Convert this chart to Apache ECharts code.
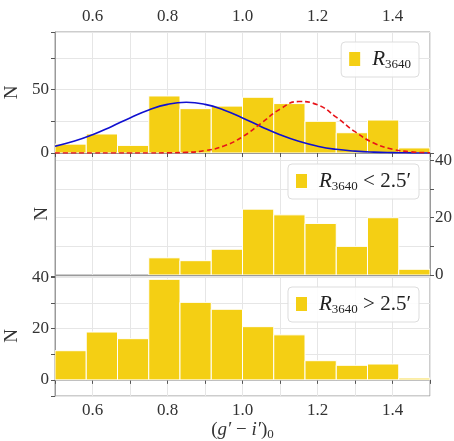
<!DOCTYPE html>
<html>
<head>
<meta charset="utf-8">
<script src="https://cdn.jsdelivr.net/npm/echarts@6/dist/echarts.min.js"></script>
<style>
html, body { margin: 0; padding: 0; background: #fff; }
#chart { width: 454px; height: 441px; }
</style>
</head>
<body>
<div id="chart"></div>
<script>
// bin edges of the colour histograms
var binEdges = [0.5, 0.5833, 0.6667, 0.75, 0.8333, 0.9167, 1.0, 1.0833, 1.1667, 1.25, 1.3333, 1.4167, 1.5];

// counts per bin
var countsAll   = [7, 15, 6, 45, 35, 37, 44, 39, 25, 16, 26, 4];
var countsInner = [0, 0, 0, 6, 5, 9, 23, 21, 18, 10, 20, 2];
var countsOuter = [11.4, 18.7, 16.1, 39.3, 30.3, 27.6, 20.8, 17.6, 7.5, 5.7, 6.2, 0.7];

// fitted components
var curveX    = [0.5, 0.55, 0.6, 0.65, 0.7, 0.75, 0.8, 0.85, 0.9, 0.95, 1.0, 1.05, 1.1, 1.15, 1.2, 1.25, 1.3, 1.35, 1.4, 1.45, 1.5];
var blueCurve = [5.4, 9.2, 14.4, 20.8, 27.7, 34.0, 38.4, 40.0, 38.4, 34.0, 27.7, 20.8, 14.4, 9.2, 5.4, 2.9, 1.5, 0.7, 0.3, 0.1, 0.0];
var redCurve  = [0, 0, 0, 0, 0, 0, 0.1, 0.5, 1.9, 5.5, 12.8, 23.6, 34.6, 40.6, 38.0, 28.3, 16.8, 7.9, 3.0, 0.9, 0.2];

var xTicks = [0.6, 0.8, 1.0, 1.2, 1.4];

var barColor = '#f4cf14';
var frameColor = '#9a9a9a';
var gridColor = '#e6e6e6';
var textColor = '#333';
var fontFam = '"Liberation Serif", "DejaVu Serif", serif';

function histData(counts) {
  var out = [];
  for (var i = 0; i < counts.length; i++) {
    out.push([binEdges[i], binEdges[i + 1], counts[i]]);
  }
  return out;
}

function pairs(xs, ys) {
  var out = [];
  for (var i = 0; i < xs.length; i++) out.push([xs[i], ys[i]]);
  return out;
}

function renderBar(params, api) {
  var h = api.value(2);
  if (!h) return;
  var p0 = api.coord([api.value(0), 0]);
  var p1 = api.coord([api.value(1), h]);
  return {
    type: 'rect',
    shape: { x: p0[0], y: p1[1], width: p1[0] - p0[0], height: p0[1] - p1[1] },
    style: { fill: barColor, stroke: '#ffffff', lineWidth: 1 }
  };
}

function xLabel(v) {
  for (var i = 0; i < xTicks.length; i++) {
    if (Math.abs(v - xTicks[i]) < 1e-6) return xTicks[i].toFixed(1);
  }
  return '';
}

function yLabelEvery(step) {
  return function (v) {
    var r = Math.round(v / step) * step;
    return Math.abs(v - r) < 1e-6 ? String(r) : '';
  };
}

var legendRich = {
  r: { fontFamily: fontFam, fontStyle: 'italic', fontSize: 21, color: '#222', lineHeight: 24, padding: [0, 0, 0, 7] },
  s: { fontFamily: fontFam, fontSize: 13, color: '#222', lineHeight: 24, verticalAlign: 'bottom', padding: [10, 0, 0, 0] },
  t: { fontFamily: fontFam, fontSize: 21, color: '#222', lineHeight: 24 }
};

function makeLegend(name, top, tail) {
  return {
    data: [name],
    right: 35,
    top: top,
    orient: 'horizontal',
    icon: 'rect',
    itemWidth: 11,
    itemHeight: 14,
    padding: [6, 8, 6, 8],
    backgroundColor: 'rgba(255,255,255,0.85)',
    borderColor: '#dddddd',
    borderWidth: 1,
    borderRadius: 4,
    selectedMode: false,
    formatter: function () { return '{r|R}{s|3640}' + (tail ? '{t|' + tail + '}' : ''); },
    textStyle: { rich: legendRich }
  };
}

function xAxisBase(grid) {
  return {
    type: 'value',
    gridIndex: grid,
    min: 0.5,
    max: 1.5,
    interval: 0.1,
    axisLine: { show: true, lineStyle: { color: frameColor } },
    axisTick: { show: false, lineStyle: { color: '#555' }, length: 4 },
    axisLabel: { show: false, color: textColor, fontFamily: fontFam, fontSize: 17, formatter: xLabel },
    splitLine: { show: true, lineStyle: { color: gridColor } }
  };
}

var xTop = xAxisBase(0);
xTop.position = 'top';
xTop.axisTick.show = true;
xTop.axisTick.inside = true;
xTop.axisLabel.show = true;
xTop.axisLabel.margin = 7;

var xMid = xAxisBase(1);

var xBot = xAxisBase(2);
xBot.position = 'bottom';
xBot.axisTick.show = true;
xBot.axisLabel.show = true;
xBot.axisLabel.margin = 6;
xBot.name = '{p|(}{i|g′}{p| − }{i|i′}{p|)}{s|0}';
xBot.nameLocation = 'middle';
xBot.nameGap = 21;
xBot.nameTextStyle = {
  rich: {
    p: { fontFamily: fontFam, fontSize: 19, color: textColor, lineHeight: 22 },
    i: { fontFamily: fontFam, fontStyle: 'italic', fontSize: 19, color: textColor, lineHeight: 22 },
    s: { fontFamily: fontFam, fontSize: 13, color: textColor, lineHeight: 22, verticalAlign: 'bottom', padding: [8, 0, 0, 0] }
  }
};

var nameStyle = { fontFamily: fontFam, fontSize: 19, color: textColor };

var gridBase = { left: 55, right: 24, show: true, borderColor: frameColor, borderWidth: 1, outerBoundsMode: 'none', containLabel: false };

var option = {
  backgroundColor: '#ffffff',
  animation: false,
  grid: [
    Object.assign({}, gridBase, { top: 32, height: 121 }),
    Object.assign({}, gridBase, { top: 153, height: 122 }),
    Object.assign({}, gridBase, { top: 276, height: 120 })
  ],
  legend: [
    makeLegend('all', 42, ''),
    makeLegend('inner', 164, ' < 2.5′'),
    makeLegend('outer', 287, ' > 2.5′')
  ],
  xAxis: [xTop, xMid, xBot],
  yAxis: [
    {
      type: 'value', gridIndex: 0, min: 0, max: 95.5, interval: 25,
      name: 'N', nameLocation: 'middle', nameGap: 29, nameRotate: 90, nameTextStyle: nameStyle,
      axisLine: { show: true, lineStyle: { color: frameColor } },
      axisTick: { show: true, lineStyle: { color: '#555' }, length: 4 },
      axisLabel: { color: textColor, fontFamily: fontFam, fontSize: 17, margin: 6, formatter: yLabelEvery(50) },
      splitLine: { lineStyle: { color: gridColor } }
    },
    {
      type: 'value', gridIndex: 1, min: 0, max: 42.6, interval: 10,
      name: 'N', nameLocation: 'middle', nameGap: 3, nameRotate: 90, nameTextStyle: nameStyle,
      axisLine: { show: true, lineStyle: { color: frameColor } },
      axisTick: { show: false },
      axisLabel: { show: false },
      splitLine: { lineStyle: { color: gridColor } }
    },
    {
      type: 'value', gridIndex: 1, position: 'right', min: 0, max: 42.6, interval: 10,
      axisLine: { show: true, lineStyle: { color: frameColor } },
      axisTick: { show: true, lineStyle: { color: '#555' }, length: 4 },
      axisLabel: { color: textColor, fontFamily: fontFam, fontSize: 17, margin: 5, formatter: yLabelEvery(20) },
      splitLine: { show: false }
    },
    {
      type: 'value', gridIndex: 2, min: -6.3, max: 40.6, splitNumber: 5,
      name: 'N', nameLocation: 'middle', nameGap: 29, nameRotate: 90, nameTextStyle: nameStyle,
      axisLine: { show: true, lineStyle: { color: frameColor } },
      axisTick: { show: true, lineStyle: { color: '#555' }, length: 4 },
      axisLabel: { color: textColor, fontFamily: fontFam, fontSize: 17, margin: 6, formatter: yLabelEvery(20) },
      splitLine: { lineStyle: { color: gridColor } }
    }
  ],
  series: [
    {
      name: 'all', type: 'custom', xAxisIndex: 0, yAxisIndex: 0,
      renderItem: renderBar, encode: { x: [0, 1], y: 2 },
      itemStyle: { color: barColor }, data: histData(countsAll), clip: true, z: 2
    },
    {
      name: 'blue fit', type: 'line', xAxisIndex: 0, yAxisIndex: 0,
      data: pairs(curveX, blueCurve), smooth: true, showSymbol: false,
      lineStyle: { color: '#1010d0', width: 1.6 }, z: 3
    },
    {
      name: 'red fit', type: 'line', xAxisIndex: 0, yAxisIndex: 0,
      data: pairs(curveX, redCurve), smooth: true, showSymbol: false,
      lineStyle: { color: '#e8141a', width: 1.6, type: [5, 3] }, z: 3
    },
    {
      name: 'inner', type: 'custom', xAxisIndex: 1, yAxisIndex: 2,
      renderItem: renderBar, encode: { x: [0, 1], y: 2 },
      itemStyle: { color: barColor }, data: histData(countsInner), clip: true, z: 2
    },
    {
      name: 'outer', type: 'custom', xAxisIndex: 2, yAxisIndex: 3,
      renderItem: renderBar, encode: { x: [0, 1], y: 2 },
      itemStyle: { color: barColor }, data: histData(countsOuter), clip: true, z: 2
    }
  ]
};

var myChart = echarts.init(document.getElementById('chart'));
myChart.setOption(option);
</script>
</body>
</html>
